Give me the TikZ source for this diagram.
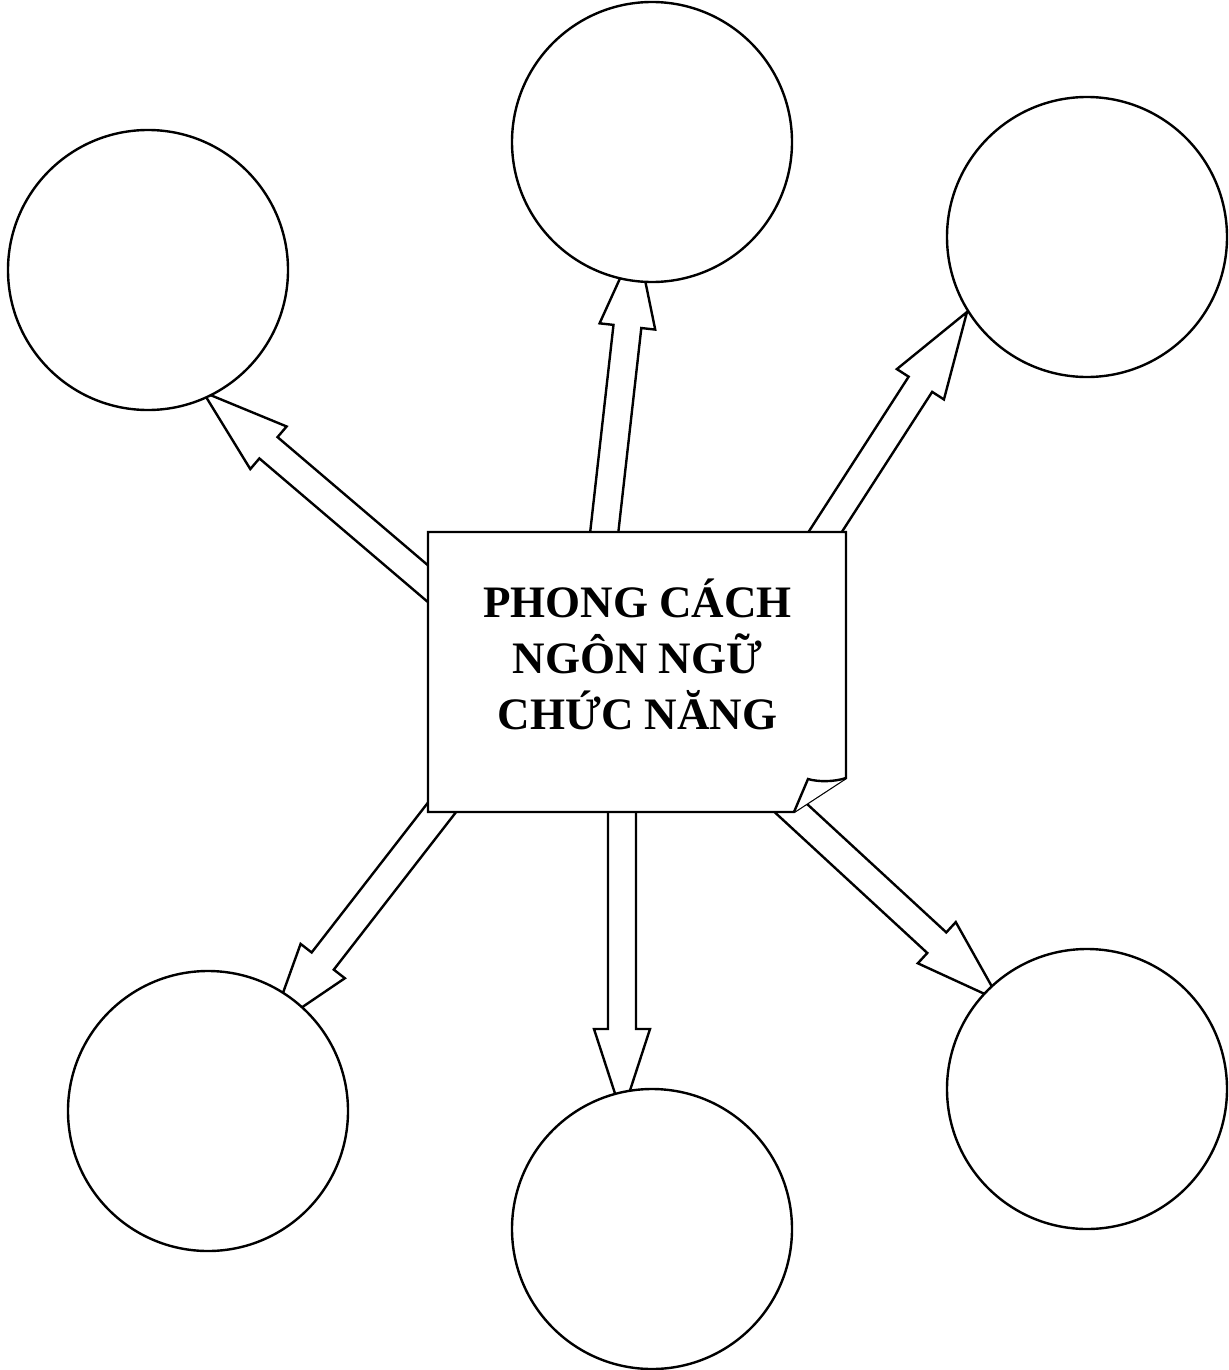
\documentclass[tikz,border=0pt]{standalone}
\usepackage{fontspec}
\setmainfont{Liberation Serif}
\usetikzlibrary{calc}
\tikzset{
  bubble/.style={circle, draw, fill=white, line width=1.2pt, minimum size=140pt, inner sep=0pt, outer sep=0pt},
  blockarrow/.style={draw, fill=white, line width=1.2pt, line join=miter},
  paper/.style={draw, fill=white, line width=1.2pt, line join=miter},
  titleline/.style={font=\bfseries\fontsize{22.5}{28}\selectfont, anchor=base, inner sep=0pt},
}
\newcommand{\blockarr}[1]{%
  \coordinate (#1h) at ($(#1e)!43pt!(#1s)$);
  \draw[blockarrow] ($(#1s)!7pt!90:(#1e)$) -- ($(#1h)!7pt!90:(#1e)$) -- ($(#1h)!14pt!90:(#1e)$) -- (#1e) -- ($(#1h)!14pt!-90:(#1e)$) -- ($(#1h)!7pt!-90:(#1e)$) -- ($(#1s)!7pt!-90:(#1e)$) -- cycle;
}
\begin{document}
\begin{tikzpicture}[x=0.5pt,y=-0.5pt]
\useasboundingbox (0,0) rectangle (1229,1370);
% arrow coordinates
\coordinate (a1s) at (600,570);  \coordinate (a1e) at (637,241);
\coordinate (a2s) at (460,611);  \coordinate (a2e) at (203,392);
\coordinate (a3s) at (800,571);  \coordinate (a3e) at (967,312);
\coordinate (a4s) at (464,779);  \coordinate (a4e) at (270,1029);
\coordinate (a5s) at (622,780);  \coordinate (a5e) at (622,1115);
\coordinate (a6s) at (768,787);  \coordinate (a6e) at (1000,1001);
\blockarr{a1}
\blockarr{a2}
\blockarr{a3}
\blockarr{a4}
\blockarr{a5}
\blockarr{a6}
% circles
\node[bubble] (c1) at (148,270) {};
\node[bubble] (c2) at (652,142) {};
\node[bubble] (c3) at (1087,237) {};
\node[bubble] (c4) at (208,1111) {};
\node[bubble] (c5) at (652,1229) {};
\node[bubble] (c6) at (1087,1089) {};
% paper box with curled corner
\coordinate (bTL) at (428,532);
\coordinate (bTR) at (846,532);
\coordinate (bR) at (846,778);
\coordinate (bB) at (794,812);
\coordinate (bBL) at (428,812);
\coordinate (flap) at (808,779);
\draw[paper] (bTL) -- (bTR) -- (bR) -- (bB) -- (bBL) -- cycle;
\draw[paper] (bR) .. controls (834,782) and (818,782) .. (flap) -- (bB);
% title
\node[titleline] (t1) at (637.5,617) {PHONG CÁCH};
\node[titleline] (t2) at (637.5,673) {NGÔN NGỮ};
\node[titleline] (t3) at (637.5,729.5) {CHỨC NĂNG};
\end{tikzpicture}
\end{document}
